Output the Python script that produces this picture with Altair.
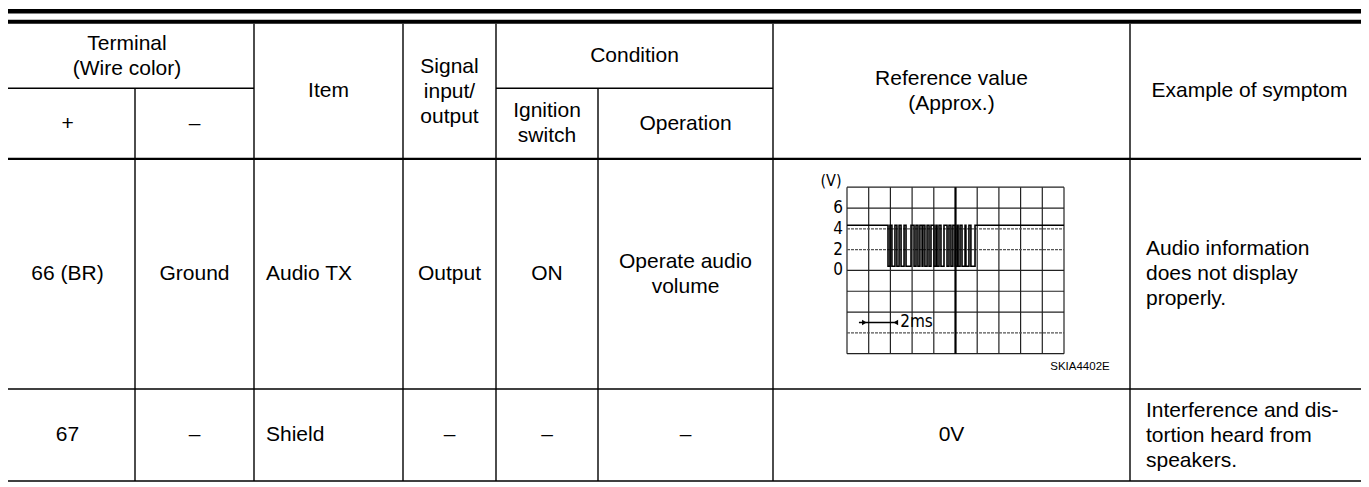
import altair as alt
import pandas as pd

# ---------------- data (cell contents) ----------------
HEADER_TOP = ["Terminal\n(Wire color)", "Item", "Signal\ninput/\noutput", "Condition",
              "Reference value\n(Approx.)", "Example of symptom"]
HEADER_SUB = ["+", "–", "Ignition\nswitch", "Operation"]
ROW_66 = ["66 (BR)", "Ground", "Audio TX", "Output", "ON", "Operate audio\nvolume", "",
          "Audio information\ndoes not display\nproperly."]
ROW_67 = ["67", "–", "Shield", "–", "–", "–", "0V",
          "Interference and dis-\ntortion heard from\nspeakers."]

# oscilloscope trace (time in divisions, volts)
SCOPE_HIGH_V = 4.35
SCOPE_LOW_V = 0.4
BURST_START = 1.89
BURST_END = 5.90
PULSE_UP = [1.98, 2.21, 2.40, 2.63, 2.95, 3.18, 3.36, 3.50, 3.69, 3.87,
            4.10, 4.24, 4.47, 4.70, 4.88, 5.07, 5.21, 5.44, 5.62]
PULSE_DOWN = [2.07, 2.30, 2.49, 2.72, 3.09, 3.27, 3.46, 3.59, 3.78, 4.01,
              4.15, 4.33, 4.61, 4.79, 4.98, 5.12, 5.30, 5.48, 5.71]
SCOPE_Y_LABELS = ["6", "4", "2", "0"]
SCOPE_Y_VALUES = [6, 4, 2, 0]
SCOPE_UNIT = "(V)"
SCOPE_TIME_LABEL = "2ms"
SCOPE_ARROW = [0.55, 2.3]
SCOPE_ARROW_V = -5
FIGURE_CODE = "SKIA4402E"

# ---------------- layout (reference pixel positions) ----------------
COL_EDGES = [0, 135, 254, 403, 496, 598, 773, 1130, 1369]
TOP_BANDS = [(4, 8.5), (15, 19)]
Y_HEAD_TOP = 19
Y_SPLIT = 85
Y_HEAD = 157
Y_ROW = 392
Y_BOTTOM = 486
LINE_H = 25
FONT = "Liberation Sans"
NARROW = "Liberation Sans Narrow, DejaVu Sans Condensed, sans-serif"
SCOPE_BOX = (847, 1064, 186, 356)  # x0, x1, y_top, y_bottom

W, H = 1353, 474
X_DOMAIN = [8, 1361]
Y_DOMAIN = [3, 487]
SY = H / (Y_DOMAIN[1] - Y_DOMAIN[0])


def px(x):
    return x - X_DOMAIN[0]


def py(y):
    return (y - Y_DOMAIN[0]) * SY


xs = alt.Scale(domain=X_DOMAIN, range=[0, W])
ys = alt.Scale(domain=Y_DOMAIN, range=[0, H])


def cc(i):
    return (COL_EDGES[i] + COL_EDGES[i + 1]) / 2


def first_line_y(text, ymid):
    n = text.count("\n") + 1
    return ymid - (n - 1) * LINE_H / 2


# ---------------- table lines ----------------
bands = pd.DataFrame([{"x0": COL_EDGES[0], "x1": COL_EDGES[-1], "y0": a, "y1": b} for a, b in TOP_BANDS])
band_layer = alt.Chart(bands).mark_rect(color="black").encode(
    x=alt.X("x0:Q", scale=xs, axis=None), x2="x1:Q",
    y=alt.Y("y0:Q", scale=ys, axis=None), y2="y1:Q")

hlines = pd.DataFrame([
    {"x0": COL_EDGES[0], "x1": COL_EDGES[2], "y": Y_SPLIT, "w": 1.6},
    {"x0": COL_EDGES[4], "x1": COL_EDGES[6], "y": Y_SPLIT, "w": 1.6},
    {"x0": COL_EDGES[0], "x1": COL_EDGES[-1], "y": Y_HEAD, "w": 2.2},
    {"x0": COL_EDGES[0], "x1": COL_EDGES[-1], "y": Y_ROW, "w": 1.6},
    {"x0": COL_EDGES[0], "x1": COL_EDGES[-1], "y": Y_BOTTOM, "w": 1.6},
])
h_layer = alt.Chart(hlines).mark_rule(color="black").encode(
    x=alt.X("x0:Q", scale=xs, axis=None), x2="x1:Q",
    y=alt.Y("y:Q", scale=ys, axis=None),
    size=alt.Size("w:Q", scale=None, legend=None))

vl = []
for i in range(1, len(COL_EDGES) - 1):
    top = Y_SPLIT if i in (1, 5) else Y_HEAD_TOP
    vl.append({"x": COL_EDGES[i], "y0": top, "y1": Y_BOTTOM})
v_layer = alt.Chart(pd.DataFrame(vl)).mark_rule(color="black", strokeWidth=1.4).encode(
    x=alt.X("x:Q", scale=xs, axis=None),
    y=alt.Y("y0:Q", scale=ys, axis=None), y2="y1:Q")

# ---------------- table texts ----------------
head_mid = (Y_HEAD_TOP + Y_HEAD) / 2
top_mid = (Y_HEAD_TOP + Y_SPLIT) / 2
sub_mid = (Y_SPLIT + Y_HEAD) / 2
r1_mid = (Y_HEAD + Y_ROW) / 2
r2_mid = (Y_ROW + Y_BOTTOM) / 2

cells_c = [
    (HEADER_TOP[0], (COL_EDGES[0] + COL_EDGES[2]) / 2, top_mid),
    (HEADER_TOP[1], cc(2), head_mid),
    (HEADER_TOP[2], cc(3), head_mid),
    (HEADER_TOP[3], (COL_EDGES[4] + COL_EDGES[6]) / 2, top_mid),
    (HEADER_TOP[4], cc(6), head_mid),
    (HEADER_TOP[5], cc(7), head_mid),
    (HEADER_SUB[0], cc(0), sub_mid),
    (HEADER_SUB[1], cc(1), sub_mid),
    (HEADER_SUB[2], cc(4), sub_mid),
    (HEADER_SUB[3], cc(5), sub_mid),
]
cells_l = []
LEFT_PAD = {2: 12, 7: 16}
for row, ymid in ((ROW_66, r1_mid), (ROW_67, r2_mid)):
    for i, t in enumerate(row):
        if not t:
            continue
        if i in LEFT_PAD:
            cells_l.append((t, COL_EDGES[i] + LEFT_PAD[i], ymid))
        else:
            cells_c.append((t, cc(i), ymid))

center_txt = pd.DataFrame([{"t": t, "x": x, "y": first_line_y(t, y)} for t, x, y in cells_c])
left_txt = pd.DataFrame([{"t": t, "x": x, "y": first_line_y(t, y)} for t, x, y in cells_l])

txt_kw = dict(font=FONT, fontSize=21, color="black", baseline="middle",
              lineBreak="\n", lineHeight=LINE_H)
ctext = alt.Chart(center_txt).mark_text(align="center", **txt_kw).encode(
    x=alt.X("x:Q", scale=xs, axis=None), y=alt.Y("y:Q", scale=ys, axis=None), text="t:N")
ltext = alt.Chart(left_txt).mark_text(align="left", **txt_kw).encode(
    x=alt.X("x:Q", scale=xs, axis=None), y=alt.Y("y:Q", scale=ys, axis=None), text="t:N")
code_layer = alt.Chart(pd.DataFrame([{"t": FIGURE_CODE, "x": 1080, "y": 370}])).mark_text(
    font=FONT, fontSize=11.5, color="black", align="center", baseline="middle").encode(
    x=alt.X("x:Q", scale=xs, axis=None), y=alt.Y("y:Q", scale=ys, axis=None), text="t:N")

table = alt.layer(band_layer, h_layer, v_layer, ctext, ltext, code_layer)

# ---------------- oscilloscope ----------------
sx = alt.Scale(domain=[0, 10], range=[px(SCOPE_BOX[0]), px(SCOPE_BOX[1])])
sy = alt.Scale(domain=[-8, 8], range=[py(SCOPE_BOX[3]), py(SCOPE_BOX[2])])

grid_v = pd.DataFrame([{"t": t, "v0": -8, "v1": 8} for t in range(0, 11) if t != 5])
grid_h = pd.DataFrame([{"v": v, "t0": 0, "t1": 10, "d": v in (4, 2, -6)} for v in range(-8, 9, 2)])

gv = alt.Chart(grid_v).mark_rule(color="#222", strokeWidth=1.2).encode(
    x=alt.X("t:Q", scale=sx, axis=None), y=alt.Y("v0:Q", scale=sy, axis=None), y2="v1:Q")
gc = alt.Chart(pd.DataFrame([{"t": 5, "v0": -8, "v1": 8}])).mark_rule(color="black", strokeWidth=2.2).encode(
    x=alt.X("t:Q", scale=sx, axis=None), y=alt.Y("v0:Q", scale=sy, axis=None), y2="v1:Q")
gh_solid = alt.Chart(grid_h[~grid_h["d"]]).mark_rule(color="#222", strokeWidth=1.2).encode(
    x=alt.X("t0:Q", scale=sx, axis=None), x2="t1:Q", y=alt.Y("v:Q", scale=sy, axis=None))
gh_dash = alt.Chart(grid_h[grid_h["d"]]).mark_rule(color="#555", strokeWidth=1.2, strokeDash=[3, 1]).encode(
    x=alt.X("t0:Q", scale=sx, axis=None), x2="t1:Q", y=alt.Y("v:Q", scale=sy, axis=None))

pts = [(0, SCOPE_HIGH_V), (BURST_START, SCOPE_HIGH_V), (BURST_START, SCOPE_LOW_V)]
for u, d in zip(PULSE_UP, PULSE_DOWN):
    pts += [(u, SCOPE_LOW_V), (u, SCOPE_HIGH_V), (d, SCOPE_HIGH_V), (d, SCOPE_LOW_V)]
pts += [(BURST_END, SCOPE_LOW_V), (BURST_END, SCOPE_HIGH_V), (10, SCOPE_HIGH_V)]
trace = pd.DataFrame([{"i": k, "t": t, "v": v} for k, (t, v) in enumerate(pts)])
trace_layer = alt.Chart(trace).mark_line(color="black", strokeWidth=1.6, interpolate="linear").encode(
    x=alt.X("t:Q", scale=sx, axis=None), y=alt.Y("v:Q", scale=sy, axis=None), order="i:Q")

ylab = pd.DataFrame({"t": [-0.18] * len(SCOPE_Y_VALUES), "v": SCOPE_Y_VALUES, "s": SCOPE_Y_LABELS})
ylab_layer = alt.Chart(ylab).mark_text(font=NARROW, fontSize=17, align="right", baseline="middle",
                                       color="black").encode(
    x=alt.X("t:Q", scale=sx, axis=None), y=alt.Y("v:Q", scale=sy, axis=None), text="s:N")
unit_layer = alt.Chart(pd.DataFrame([{"t": -0.25, "v": 8.6, "s": SCOPE_UNIT}])).mark_text(
    font=NARROW, fontSize=16, align="right", baseline="middle", color="black").encode(
    x=alt.X("t:Q", scale=sx, axis=None), y=alt.Y("v:Q", scale=sy, axis=None), text="s:N")

arrow = pd.DataFrame([{"t0": SCOPE_ARROW[0], "t1": SCOPE_ARROW[1], "v": SCOPE_ARROW_V}])
arrow_line = alt.Chart(arrow).mark_rule(color="black", strokeWidth=1.3).encode(
    x=alt.X("t0:Q", scale=sx, axis=None), x2="t1:Q", y=alt.Y("v:Q", scale=sy, axis=None))
heads = pd.DataFrame([
    {"t": SCOPE_ARROW[0] + 0.25, "v": SCOPE_ARROW_V, "shape": "triangle-right"},
    {"t": SCOPE_ARROW[1] - 0.05, "v": SCOPE_ARROW_V, "shape": "triangle-left"},
])
heads_layer = alt.Chart(heads).mark_point(filled=True, color="black", size=28, opacity=1).encode(
    x=alt.X("t:Q", scale=sx, axis=None), y=alt.Y("v:Q", scale=sy, axis=None),
    shape=alt.Shape("shape:N", scale=None, legend=None))
tlabel = alt.Chart(pd.DataFrame([{"t": SCOPE_ARROW[1] + 0.15, "v": SCOPE_ARROW_V, "s": SCOPE_TIME_LABEL}])).mark_text(
    font=NARROW, fontSize=17, align="left", baseline="middle", color="black").encode(
    x=alt.X("t:Q", scale=sx, axis=None), y=alt.Y("v:Q", scale=sy, axis=None), text="s:N")

scope = alt.layer(gv, gh_solid, gh_dash, gc, trace_layer, ylab_layer, unit_layer,
                  arrow_line, heads_layer, tlabel)

chart = alt.layer(table, scope).resolve_scale(x="independent", y="independent").properties(
    width=W, height=H, padding=0, autosize=alt.AutoSizeParams(type="none"),
    background="white"
).configure_view(stroke=None)

chart.save("out.html", embed_options={"renderer": "svg", "actions": False})
